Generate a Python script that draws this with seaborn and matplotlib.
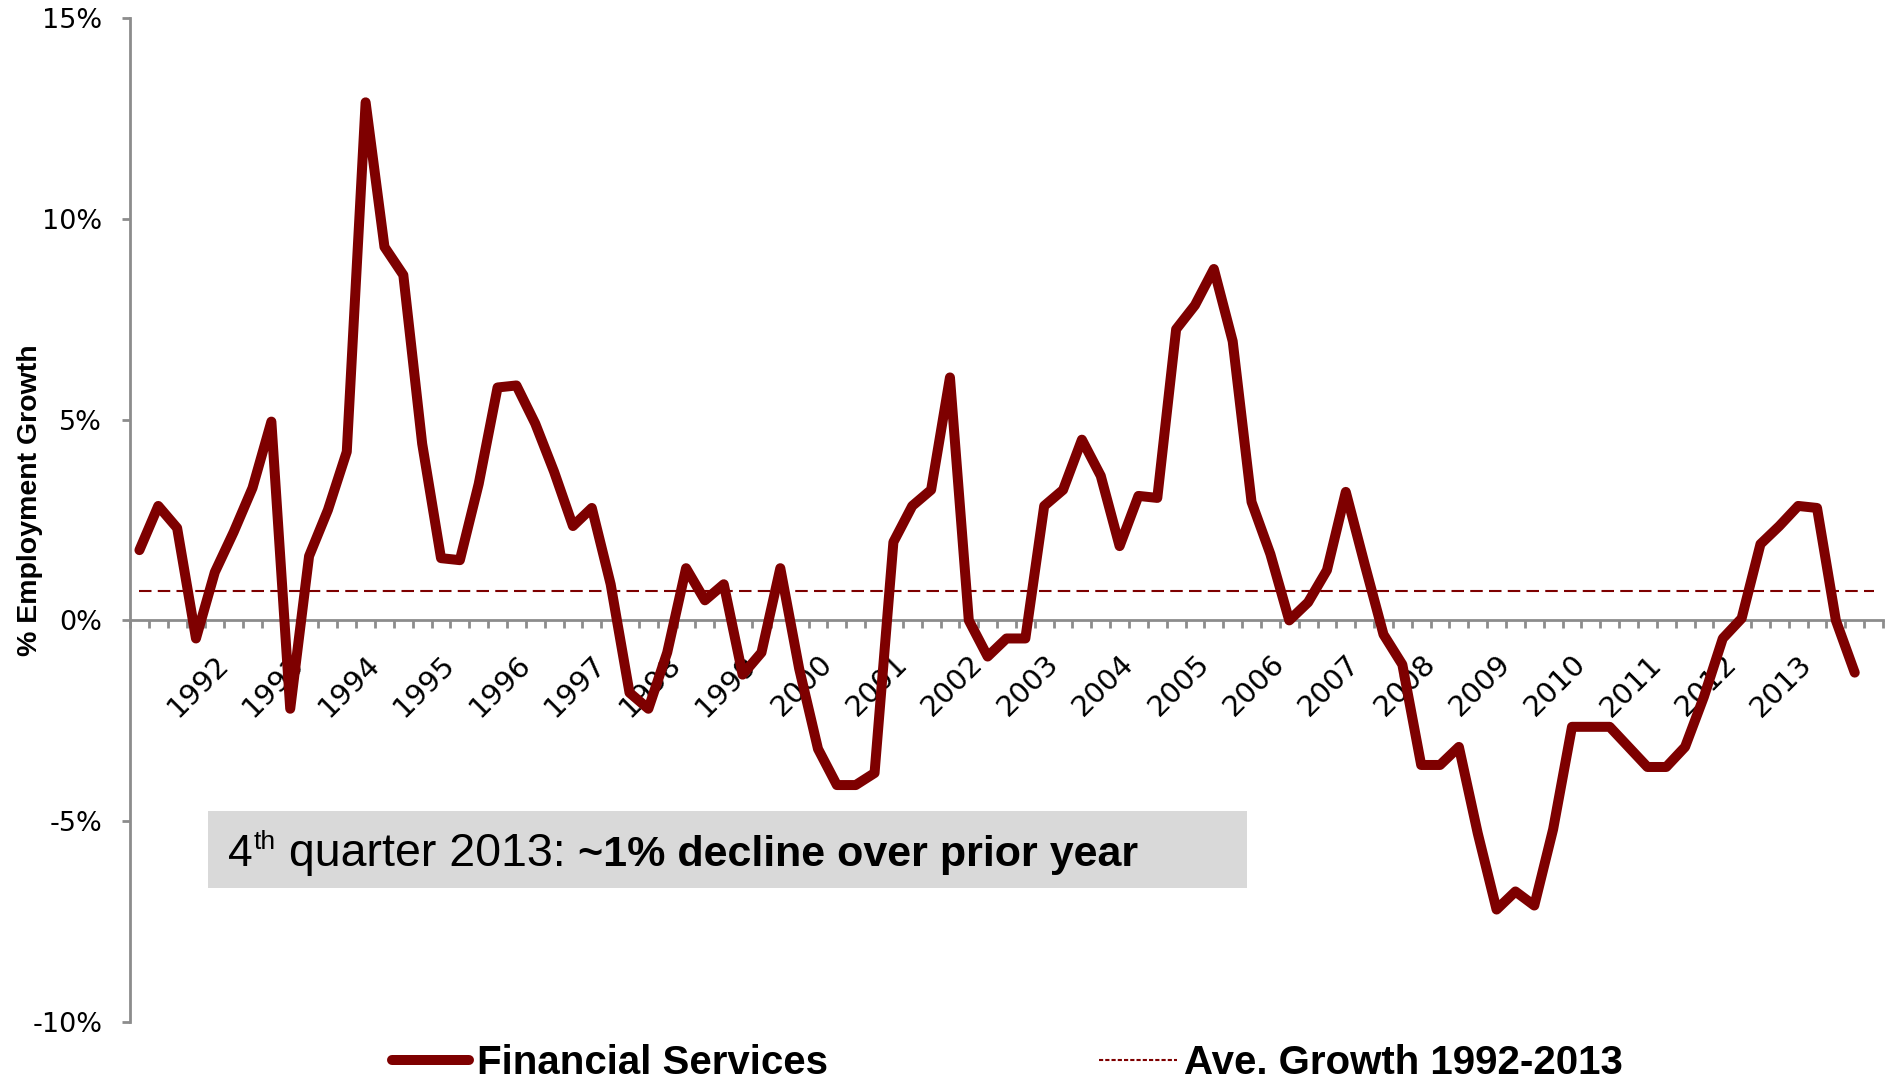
import numpy as np
import pandas as pd
import matplotlib
matplotlib.use("Agg")
import matplotlib.pyplot as plt
import seaborn as sns
from matplotlib.lines import Line2D
from matplotlib.patches import Rectangle

# Year-over-year employment growth, quarterly, 1991 Q1 - 2013 Q4 (%)
growth = [
    1.75, 2.85, 2.3, -0.45,          # 1991
    1.2, 2.2, 3.3, 4.95,             # 1992
    -2.2, 1.6, 2.75, 4.2,            # 1993
    12.9, 9.3, 8.6, 4.4,             # 1994
    1.55, 1.5, 3.4, 5.8,             # 1995
    5.85, 4.9, 3.7, 2.35,            # 1996
    2.8, 0.9, -1.8, -2.2,            # 1997
    -0.8, 1.3, 0.5, 0.9,             # 1998
    -1.35, -0.8, 1.3, -1.2,          # 1999
    -3.2, -4.1, -4.1, -3.8,          # 2000
    1.95, 2.85, 3.25, 6.05,          # 2001
    0.0, -0.9, -0.45, -0.45,         # 2002
    2.85, 3.25, 4.5, 3.6,            # 2003
    1.85, 3.1, 3.05, 7.25,           # 2004
    7.85, 8.75, 6.95, 2.95,          # 2005
    1.65, 0.0, 0.45, 1.25,           # 2006
    3.2, 1.4, -0.35, -1.1,           # 2007
    -3.6, -3.6, -3.15, -5.3,         # 2008
    -7.2, -6.75, -7.1, -5.2,         # 2009
    -2.65, -2.65, -2.65, -3.15,      # 2010
    -3.65, -3.65, -3.15, -1.9,       # 2011
    -0.45, 0.05, 1.9, 2.35,          # 2012
    2.85, 2.8, 0.0, -1.3,            # 2013
]
avg_growth = 0.72
year_labels = [str(y) for y in range(1992, 2014)]
y_ticks = [-10, -5, 0, 5, 10, 15]
y_tick_labels = ["-10%", "-5%", "0%", "5%", "10%", "15%"]

series_name = "Financial Services"
avg_name = "Ave. Growth 1992-2013"
y_title = "% Employment Growth"
note_num = "4"
note_sup = "th"
note_regular = " quarter 2013: "
note_bold = "~1% decline over prior year"

RED = "#7E0000"
GRAY = "#8C8C8C"
INK = "#000000"

sns.set_theme(style="white")
plt.rcParams["font.family"] = ["Liberation Sans", "DejaVu Sans"]
plt.rcParams["text.color"] = INK

W, H = 1886, 1084
fig = plt.figure(figsize=(W / 100, H / 100), dpi=100)
ax = fig.add_axes([130 / W, 1 - 1022 / H, (1883 - 130) / W, (1022 - 18) / H])

n = len(growth)
df = pd.DataFrame({"quarter": np.arange(n), "growth": growth})
avg_df = pd.DataFrame({"quarter": np.arange(n + 1), "avg": [avg_growth] * (n + 1)})

sns.lineplot(data=avg_df, x="quarter", y="avg", ax=ax, color=RED,
             linewidth=1.5, legend=False)
ax.lines[-1].set_dashes([6, 3])
sns.lineplot(data=df, x="quarter", y="growth", ax=ax, color=RED,
             linewidth=7.2, legend=False, sort=False)
ax.lines[-1].set_solid_joinstyle("round")
ax.lines[-1].set_solid_capstyle("round")

ax.set_xlim(-0.5, n + 0.5)
ax.set_ylim(-10, 15)
ax.set_xlabel("")
ax.set_ylabel("")

for s in ("top", "right"):
    ax.spines[s].set_visible(False)
ax.spines["left"].set_color(GRAY)
ax.spines["left"].set_linewidth(2.0)
ax.spines["bottom"].set_color(GRAY)
ax.spines["bottom"].set_linewidth(2.0)
ax.spines["bottom"].set_position(("data", 0))
ax.spines["bottom"].set_zorder(1)

ax.set_yticks(y_ticks)
ax.set_yticklabels(y_tick_labels, fontfamily="DejaVu Sans", fontsize=19.5,
                   color=INK)
ax.tick_params(axis="y", which="major", direction="out", length=6, width=2,
               color=GRAY, pad=14, left=True)

label_pos = [4 + 4 * i for i in range(len(year_labels))]
ax.set_xticks(label_pos)
ax.set_xticklabels(year_labels, fontfamily="DejaVu Sans", fontsize=21,
                   rotation=45, ha="right", va="top", rotation_mode="anchor",
                   color=INK)
ax.set_xticks(np.arange(-0.5, n + 1, 1.0), minor=True)
ax.tick_params(axis="x", which="major", length=0, pad=21, bottom=True)
ax.tick_params(axis="x", which="minor", direction="out", length=6, width=2,
               color=GRAY, bottom=True)
ax.grid(False)

fig.text(30 / W, 1 - 500 / H, y_title, rotation=90, ha="center", va="center",
         fontsize=20.5, fontweight="bold", color=INK)

# Callout box with mixed-weight text
fig.patches.append(Rectangle((208 / W, 1 - 888 / H), (1247 - 208) / W, (888 - 811) / H,
                             transform=fig.transFigure, facecolor="#D9D9D9",
                             edgecolor="none", zorder=0))
renderer = fig.canvas.get_renderer()
base_y = 1 - 866 / H
x = 228 / W
t = fig.text(x, base_y, note_num, fontsize=32, va="baseline", ha="left", color=INK)
x += t.get_window_extent(renderer).width / W + 1 / W
t = fig.text(x, base_y + 17 / H, note_sup, fontsize=19, va="baseline", ha="left",
             color=INK)
x += t.get_window_extent(renderer).width / W
t = fig.text(x, base_y, note_regular, fontsize=33.5, va="baseline", ha="left", color=INK)
x += t.get_window_extent(renderer).width / W
fig.text(x, base_y, note_bold, fontsize=31, fontweight="bold", va="baseline",
         ha="left", color=INK)

handles = [
    Line2D([], [], color=RED, linewidth=7.2, solid_capstyle="round"),
    Line2D([], [], color=RED, linewidth=1.5, dashes=[2, 1]),
]
fig.legend(handles, [series_name, avg_name], loc="center left",
           bbox_to_anchor=(392 / W, 1 - 1063 / H), ncol=2, frameon=False,
           prop={"weight": "bold", "size": 29}, labelcolor=INK,
           handlelength=1.92, handletextpad=0.18, columnspacing=6.75,
           borderpad=0, borderaxespad=0)

fig.savefig("out.png", dpi=100)
